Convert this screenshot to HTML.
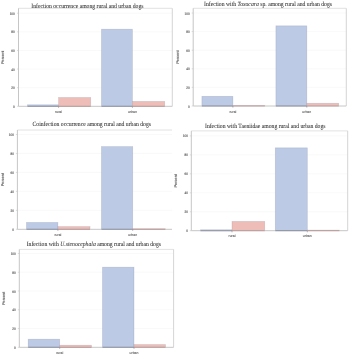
<!DOCTYPE html>
<html><head><meta charset="utf-8"><style>
html,body{margin:0;padding:0;background:#fff;width:350px;height:356px;overflow:hidden}
svg{display:block;will-change:transform}
text{text-rendering:geometricPrecision}
.tk{font-family:"Liberation Sans",sans-serif;font-size:3.65px;fill:#5a5a5a;stroke:#5a5a5a;stroke-width:0.15px}
.xk{font-family:"Liberation Sans",sans-serif;font-size:3.5px;fill:#6a6a6a;stroke:#6a6a6a;stroke-width:0.1px}
.pl{font-family:"Liberation Sans",sans-serif;font-size:3.9px;fill:#5a5a5a;stroke:#5a5a5a;stroke-width:0.1px}
.tt{font-family:"Liberation Serif",serif;font-size:6.45px;fill:#2a2a2a;stroke:#2a2a2a;stroke-width:0.04px}
</style></head><body>
<svg width="350" height="356" viewBox="0 0 350 356">
<rect width="350" height="356" fill="#fff"/>
<line x1="18.5" x2="172.3" y1="87.68" y2="87.68" stroke="#f5f5f5" stroke-width="0.6"/>
<line x1="18.5" x2="172.3" y1="69.06" y2="69.06" stroke="#f5f5f5" stroke-width="0.6"/>
<line x1="18.5" x2="172.3" y1="50.44" y2="50.44" stroke="#f5f5f5" stroke-width="0.6"/>
<line x1="18.5" x2="172.3" y1="31.82" y2="31.82" stroke="#f5f5f5" stroke-width="0.6"/>
<line x1="18.5" x2="172.3" y1="13.2" y2="13.2" stroke="#f5f5f5" stroke-width="0.6"/>
<line x1="18.5" x2="172.3" y1="8.3" y2="8.3" stroke="#e2e2e2" stroke-width="1"/>
<line x1="172.3" x2="172.3" y1="8.3" y2="106.3" stroke="#d0d0d0" stroke-width="0.9"/>
<rect x="27.5" y="104.81" width="31.1" height="1.49" fill="#bccae5" stroke="#6a6f8a" stroke-opacity="0.26" stroke-width="0.7"/>
<rect x="58.6" y="97.5" width="32.1" height="8.8" fill="#efbdb8" stroke="#7a6f80" stroke-opacity="0.26" stroke-width="0.7"/>
<rect x="101.5" y="29.21" width="30.9" height="77.09" fill="#bccae5" stroke="#6a6f8a" stroke-opacity="0.26" stroke-width="0.7"/>
<rect x="132.4" y="101.46" width="32.3" height="4.84" fill="#efbdb8" stroke="#7a6f80" stroke-opacity="0.26" stroke-width="0.7"/>
<line x1="18.5" x2="18.5" y1="8.3" y2="106.3" stroke="#c6c6c6" stroke-width="1"/>
<line x1="18.5" x2="172.3" y1="106.3" y2="106.3" stroke="#c6c6c6" stroke-width="1"/>
<line x1="27.5" x2="58.6" y1="106.3" y2="106.3" stroke="#505878" stroke-opacity="0.4" stroke-width="1.2"/>
<line x1="58.6" x2="90.7" y1="106.3" y2="106.3" stroke="#b07070" stroke-opacity="0.4" stroke-width="1.2"/>
<line x1="101.5" x2="132.4" y1="106.3" y2="106.3" stroke="#505878" stroke-opacity="0.4" stroke-width="1.2"/>
<line x1="132.4" x2="164.7" y1="106.3" y2="106.3" stroke="#b07070" stroke-opacity="0.4" stroke-width="1.2"/>
<line x1="17" x2="18.5" y1="106.3" y2="106.3" stroke="#c6c6c6" stroke-width="0.6"/>
<text transform="translate(14.8,107.8) scale(0.85,1)" text-anchor="end" class="tk">0</text>
<line x1="17" x2="18.5" y1="87.68" y2="87.68" stroke="#c6c6c6" stroke-width="0.6"/>
<text transform="translate(14.8,89.18) scale(0.85,1)" text-anchor="end" class="tk">20</text>
<line x1="17" x2="18.5" y1="69.06" y2="69.06" stroke="#c6c6c6" stroke-width="0.6"/>
<text transform="translate(14.8,70.56) scale(0.85,1)" text-anchor="end" class="tk">40</text>
<line x1="17" x2="18.5" y1="50.44" y2="50.44" stroke="#c6c6c6" stroke-width="0.6"/>
<text transform="translate(14.8,51.94) scale(0.85,1)" text-anchor="end" class="tk">60</text>
<line x1="17" x2="18.5" y1="31.82" y2="31.82" stroke="#c6c6c6" stroke-width="0.6"/>
<text transform="translate(14.8,33.32) scale(0.85,1)" text-anchor="end" class="tk">80</text>
<line x1="17" x2="18.5" y1="13.2" y2="13.2" stroke="#c6c6c6" stroke-width="0.6"/>
<text transform="translate(14.8,14.7) scale(0.85,1)" text-anchor="end" class="tk">100</text>
<line x1="58.6" x2="58.6" y1="106.3" y2="107.9" stroke="#888" stroke-width="0.6"/>
<text x="58.6" y="113.45" text-anchor="middle" class="xk">rural</text>
<line x1="132.4" x2="132.4" y1="106.3" y2="107.9" stroke="#888" stroke-width="0.6"/>
<text x="132.4" y="113.45" text-anchor="middle" class="xk">urban</text>
<text transform="translate(4.1,57.3) rotate(-90)" text-anchor="middle" class="pl">Percent</text>
<text x="31.3" y="7.7" textLength="112.2" lengthAdjust="spacingAndGlyphs" class="tt">Infection occurrence among rural and urban dogs</text>
<line x1="193.2" x2="346.3" y1="87.4" y2="87.4" stroke="#f5f5f5" stroke-width="0.6"/>
<line x1="193.2" x2="346.3" y1="68.8" y2="68.8" stroke="#f5f5f5" stroke-width="0.6"/>
<line x1="193.2" x2="346.3" y1="50.2" y2="50.2" stroke="#f5f5f5" stroke-width="0.6"/>
<line x1="193.2" x2="346.3" y1="31.6" y2="31.6" stroke="#f5f5f5" stroke-width="0.6"/>
<line x1="193.2" x2="346.3" y1="13" y2="13" stroke="#f5f5f5" stroke-width="0.6"/>
<line x1="193.2" x2="346.3" y1="8.3" y2="8.3" stroke="#e2e2e2" stroke-width="1"/>
<line x1="346.3" x2="346.3" y1="8.3" y2="106" stroke="#d0d0d0" stroke-width="0.9"/>
<rect x="201.9" y="96.33" width="31" height="9.67" fill="#bccae5" stroke="#6a6f8a" stroke-opacity="0.26" stroke-width="0.7"/>
<rect x="232.9" y="105.53" width="31.9" height="0.47" fill="#efbdb8" stroke="#7a6f80" stroke-opacity="0.26" stroke-width="0.7"/>
<rect x="275.9" y="25.83" width="30.9" height="80.17" fill="#bccae5" stroke="#6a6f8a" stroke-opacity="0.26" stroke-width="0.7"/>
<rect x="306.8" y="103.3" width="31.9" height="2.7" fill="#efbdb8" stroke="#7a6f80" stroke-opacity="0.26" stroke-width="0.7"/>
<line x1="193.2" x2="193.2" y1="8.3" y2="106" stroke="#c6c6c6" stroke-width="1"/>
<line x1="193.2" x2="346.3" y1="106" y2="106" stroke="#c6c6c6" stroke-width="1"/>
<line x1="201.9" x2="232.9" y1="106" y2="106" stroke="#505878" stroke-opacity="0.4" stroke-width="1.2"/>
<line x1="232.9" x2="264.8" y1="106" y2="106" stroke="#b07070" stroke-opacity="0.4" stroke-width="1.2"/>
<line x1="275.9" x2="306.8" y1="106" y2="106" stroke="#505878" stroke-opacity="0.4" stroke-width="1.2"/>
<line x1="306.8" x2="338.7" y1="106" y2="106" stroke="#b07070" stroke-opacity="0.4" stroke-width="1.2"/>
<line x1="191.7" x2="193.2" y1="106" y2="106" stroke="#c6c6c6" stroke-width="0.6"/>
<text transform="translate(189.7,107.5) scale(0.85,1)" text-anchor="end" class="tk">0</text>
<line x1="191.7" x2="193.2" y1="87.4" y2="87.4" stroke="#c6c6c6" stroke-width="0.6"/>
<text transform="translate(189.7,88.9) scale(0.85,1)" text-anchor="end" class="tk">20</text>
<line x1="191.7" x2="193.2" y1="68.8" y2="68.8" stroke="#c6c6c6" stroke-width="0.6"/>
<text transform="translate(189.7,70.3) scale(0.85,1)" text-anchor="end" class="tk">40</text>
<line x1="191.7" x2="193.2" y1="50.2" y2="50.2" stroke="#c6c6c6" stroke-width="0.6"/>
<text transform="translate(189.7,51.7) scale(0.85,1)" text-anchor="end" class="tk">60</text>
<line x1="191.7" x2="193.2" y1="31.6" y2="31.6" stroke="#c6c6c6" stroke-width="0.6"/>
<text transform="translate(189.7,33.1) scale(0.85,1)" text-anchor="end" class="tk">80</text>
<line x1="191.7" x2="193.2" y1="13" y2="13" stroke="#c6c6c6" stroke-width="0.6"/>
<text transform="translate(189.7,14.5) scale(0.85,1)" text-anchor="end" class="tk">100</text>
<line x1="232.9" x2="232.9" y1="106" y2="107.6" stroke="#888" stroke-width="0.6"/>
<text x="232.9" y="112.8" text-anchor="middle" class="xk">rural</text>
<line x1="306.8" x2="306.8" y1="106" y2="107.6" stroke="#888" stroke-width="0.6"/>
<text x="306.8" y="112.8" text-anchor="middle" class="xk">urban</text>
<text transform="translate(178.7,57.15) rotate(-90)" text-anchor="middle" class="pl">Percent</text>
<text x="204" y="5.9" textLength="128" lengthAdjust="spacingAndGlyphs" class="tt">Infection with <tspan font-style="italic">Toxocara</tspan> sp. among rural and urban dogs</text>
<line x1="17.4" x2="172" y1="210.34" y2="210.34" stroke="#f5f5f5" stroke-width="0.6"/>
<line x1="17.4" x2="172" y1="191.38" y2="191.38" stroke="#f5f5f5" stroke-width="0.6"/>
<line x1="17.4" x2="172" y1="172.42" y2="172.42" stroke="#f5f5f5" stroke-width="0.6"/>
<line x1="17.4" x2="172" y1="153.46" y2="153.46" stroke="#f5f5f5" stroke-width="0.6"/>
<line x1="17.4" x2="172" y1="134.5" y2="134.5" stroke="#f5f5f5" stroke-width="0.6"/>
<line x1="17.4" x2="172" y1="130" y2="130" stroke="#e2e2e2" stroke-width="1"/>
<rect x="26.5" y="222.47" width="31.4" height="6.83" fill="#bccae5" stroke="#6a6f8a" stroke-opacity="0.26" stroke-width="0.7"/>
<rect x="57.9" y="226.6" width="32.1" height="2.7" fill="#efbdb8" stroke="#7a6f80" stroke-opacity="0.26" stroke-width="0.7"/>
<rect x="101.5" y="146.63" width="31.2" height="82.67" fill="#bccae5" stroke="#6a6f8a" stroke-opacity="0.26" stroke-width="0.7"/>
<rect x="132.7" y="228.73" width="32.6" height="0.57" fill="#efbdb8" stroke="#7a6f80" stroke-opacity="0.26" stroke-width="0.7"/>
<line x1="17.4" x2="17.4" y1="130" y2="229.3" stroke="#c6c6c6" stroke-width="1"/>
<line x1="17.4" x2="172" y1="229.3" y2="229.3" stroke="#c6c6c6" stroke-width="1"/>
<line x1="26.5" x2="57.9" y1="229.3" y2="229.3" stroke="#505878" stroke-opacity="0.4" stroke-width="1.2"/>
<line x1="57.9" x2="90" y1="229.3" y2="229.3" stroke="#b07070" stroke-opacity="0.4" stroke-width="1.2"/>
<line x1="101.5" x2="132.7" y1="229.3" y2="229.3" stroke="#505878" stroke-opacity="0.4" stroke-width="1.2"/>
<line x1="132.7" x2="165.3" y1="229.3" y2="229.3" stroke="#b07070" stroke-opacity="0.4" stroke-width="1.2"/>
<line x1="15.9" x2="17.4" y1="229.3" y2="229.3" stroke="#c6c6c6" stroke-width="0.6"/>
<text transform="translate(14,230.8) scale(0.85,1)" text-anchor="end" class="tk">0</text>
<line x1="15.9" x2="17.4" y1="210.34" y2="210.34" stroke="#c6c6c6" stroke-width="0.6"/>
<text transform="translate(14,211.84) scale(0.85,1)" text-anchor="end" class="tk">20</text>
<line x1="15.9" x2="17.4" y1="191.38" y2="191.38" stroke="#c6c6c6" stroke-width="0.6"/>
<text transform="translate(14,192.88) scale(0.85,1)" text-anchor="end" class="tk">40</text>
<line x1="15.9" x2="17.4" y1="172.42" y2="172.42" stroke="#c6c6c6" stroke-width="0.6"/>
<text transform="translate(14,173.92) scale(0.85,1)" text-anchor="end" class="tk">60</text>
<line x1="15.9" x2="17.4" y1="153.46" y2="153.46" stroke="#c6c6c6" stroke-width="0.6"/>
<text transform="translate(14,154.96) scale(0.85,1)" text-anchor="end" class="tk">80</text>
<line x1="15.9" x2="17.4" y1="134.5" y2="134.5" stroke="#c6c6c6" stroke-width="0.6"/>
<text transform="translate(14,136) scale(0.85,1)" text-anchor="end" class="tk">100</text>
<line x1="57.9" x2="57.9" y1="229.3" y2="230.9" stroke="#888" stroke-width="0.6"/>
<text x="57.9" y="236.3" text-anchor="middle" class="xk">rural</text>
<line x1="132.7" x2="132.7" y1="229.3" y2="230.9" stroke="#888" stroke-width="0.6"/>
<text x="132.7" y="236.3" text-anchor="middle" class="xk">urban</text>
<text transform="translate(4,179.65) rotate(-90)" text-anchor="middle" class="pl">Percent</text>
<text x="32.5" y="125.8" textLength="118.5" lengthAdjust="spacingAndGlyphs" class="tt">Coinfection occurrence among rural and urban dogs</text>
<line x1="191.3" x2="347.7" y1="211.74" y2="211.74" stroke="#f5f5f5" stroke-width="0.6"/>
<line x1="191.3" x2="347.7" y1="192.78" y2="192.78" stroke="#f5f5f5" stroke-width="0.6"/>
<line x1="191.3" x2="347.7" y1="173.82" y2="173.82" stroke="#f5f5f5" stroke-width="0.6"/>
<line x1="191.3" x2="347.7" y1="154.86" y2="154.86" stroke="#f5f5f5" stroke-width="0.6"/>
<line x1="191.3" x2="347.7" y1="135.9" y2="135.9" stroke="#f5f5f5" stroke-width="0.6"/>
<line x1="191.3" x2="347.7" y1="130.9" y2="130.9" stroke="#e2e2e2" stroke-width="1"/>
<line x1="347.7" x2="347.7" y1="130.9" y2="230.7" stroke="#d0d0d0" stroke-width="0.9"/>
<rect x="200.5" y="229.75" width="31.5" height="0.95" fill="#bccae5" stroke="#6a6f8a" stroke-opacity="0.26" stroke-width="0.7"/>
<rect x="232" y="221.45" width="32.7" height="9.25" fill="#efbdb8" stroke="#7a6f80" stroke-opacity="0.26" stroke-width="0.7"/>
<rect x="275.3" y="147.84" width="32" height="82.86" fill="#bccae5" stroke="#6a6f8a" stroke-opacity="0.26" stroke-width="0.7"/>
<rect x="307.3" y="230.13" width="32" height="0.57" fill="#efbdb8" stroke="#7a6f80" stroke-opacity="0.26" stroke-width="0.7"/>
<line x1="191.3" x2="191.3" y1="130.9" y2="230.7" stroke="#c6c6c6" stroke-width="1"/>
<line x1="191.3" x2="347.7" y1="230.7" y2="230.7" stroke="#c6c6c6" stroke-width="1"/>
<line x1="200.5" x2="232" y1="230.7" y2="230.7" stroke="#505878" stroke-opacity="0.4" stroke-width="1.2"/>
<line x1="232" x2="264.7" y1="230.7" y2="230.7" stroke="#b07070" stroke-opacity="0.4" stroke-width="1.2"/>
<line x1="275.3" x2="307.3" y1="230.7" y2="230.7" stroke="#505878" stroke-opacity="0.4" stroke-width="1.2"/>
<line x1="307.3" x2="339.3" y1="230.7" y2="230.7" stroke="#b07070" stroke-opacity="0.4" stroke-width="1.2"/>
<line x1="189.8" x2="191.3" y1="230.7" y2="230.7" stroke="#c6c6c6" stroke-width="0.6"/>
<text transform="translate(188,232.2) scale(0.85,1)" text-anchor="end" class="tk">0</text>
<line x1="189.8" x2="191.3" y1="211.74" y2="211.74" stroke="#c6c6c6" stroke-width="0.6"/>
<text transform="translate(188,213.24) scale(0.85,1)" text-anchor="end" class="tk">20</text>
<line x1="189.8" x2="191.3" y1="192.78" y2="192.78" stroke="#c6c6c6" stroke-width="0.6"/>
<text transform="translate(188,194.28) scale(0.85,1)" text-anchor="end" class="tk">40</text>
<line x1="189.8" x2="191.3" y1="173.82" y2="173.82" stroke="#c6c6c6" stroke-width="0.6"/>
<text transform="translate(188,175.32) scale(0.85,1)" text-anchor="end" class="tk">60</text>
<line x1="189.8" x2="191.3" y1="154.86" y2="154.86" stroke="#c6c6c6" stroke-width="0.6"/>
<text transform="translate(188,156.36) scale(0.85,1)" text-anchor="end" class="tk">80</text>
<line x1="189.8" x2="191.3" y1="135.9" y2="135.9" stroke="#c6c6c6" stroke-width="0.6"/>
<text transform="translate(188,137.4) scale(0.85,1)" text-anchor="end" class="tk">100</text>
<line x1="232" x2="232" y1="230.7" y2="232.3" stroke="#888" stroke-width="0.6"/>
<text x="232" y="236.9" text-anchor="middle" class="xk">rural</text>
<line x1="307.3" x2="307.3" y1="230.7" y2="232.3" stroke="#888" stroke-width="0.6"/>
<text x="307.3" y="236.9" text-anchor="middle" class="xk">urban</text>
<text transform="translate(176.8,180.8) rotate(-90)" text-anchor="middle" class="pl">Percent</text>
<text x="205" y="128.3" textLength="120.5" lengthAdjust="spacingAndGlyphs" class="tt">Infection with Taeniidae among rural and urban dogs</text>
<line x1="19.3" x2="173.6" y1="328.54" y2="328.54" stroke="#f5f5f5" stroke-width="0.6"/>
<line x1="19.3" x2="173.6" y1="309.78" y2="309.78" stroke="#f5f5f5" stroke-width="0.6"/>
<line x1="19.3" x2="173.6" y1="291.02" y2="291.02" stroke="#f5f5f5" stroke-width="0.6"/>
<line x1="19.3" x2="173.6" y1="272.26" y2="272.26" stroke="#f5f5f5" stroke-width="0.6"/>
<line x1="19.3" x2="173.6" y1="253.5" y2="253.5" stroke="#f5f5f5" stroke-width="0.6"/>
<line x1="19.3" x2="173.6" y1="249.4" y2="249.4" stroke="#e2e2e2" stroke-width="1"/>
<line x1="173.6" x2="173.6" y1="249.4" y2="347.3" stroke="#d0d0d0" stroke-width="0.9"/>
<rect x="28.2" y="339.23" width="31.5" height="8.07" fill="#bccae5" stroke="#6a6f8a" stroke-opacity="0.26" stroke-width="0.7"/>
<rect x="59.7" y="345.24" width="31.8" height="2.06" fill="#efbdb8" stroke="#7a6f80" stroke-opacity="0.26" stroke-width="0.7"/>
<rect x="102.5" y="267.19" width="31.5" height="80.11" fill="#bccae5" stroke="#6a6f8a" stroke-opacity="0.26" stroke-width="0.7"/>
<rect x="134" y="344.58" width="31.5" height="2.72" fill="#efbdb8" stroke="#7a6f80" stroke-opacity="0.26" stroke-width="0.7"/>
<line x1="19.3" x2="19.3" y1="249.4" y2="347.3" stroke="#c6c6c6" stroke-width="1"/>
<line x1="19.3" x2="173.6" y1="347.3" y2="347.3" stroke="#c6c6c6" stroke-width="1"/>
<line x1="28.2" x2="59.7" y1="347.3" y2="347.3" stroke="#505878" stroke-opacity="0.4" stroke-width="1.2"/>
<line x1="59.7" x2="91.5" y1="347.3" y2="347.3" stroke="#b07070" stroke-opacity="0.4" stroke-width="1.2"/>
<line x1="102.5" x2="134" y1="347.3" y2="347.3" stroke="#505878" stroke-opacity="0.4" stroke-width="1.2"/>
<line x1="134" x2="165.5" y1="347.3" y2="347.3" stroke="#b07070" stroke-opacity="0.4" stroke-width="1.2"/>
<line x1="17.8" x2="19.3" y1="347.3" y2="347.3" stroke="#c6c6c6" stroke-width="0.6"/>
<text transform="translate(15.8,348.8) scale(0.85,1)" text-anchor="end" class="tk">0</text>
<line x1="17.8" x2="19.3" y1="328.54" y2="328.54" stroke="#c6c6c6" stroke-width="0.6"/>
<text transform="translate(15.8,330.04) scale(0.85,1)" text-anchor="end" class="tk">20</text>
<line x1="17.8" x2="19.3" y1="309.78" y2="309.78" stroke="#c6c6c6" stroke-width="0.6"/>
<text transform="translate(15.8,311.28) scale(0.85,1)" text-anchor="end" class="tk">40</text>
<line x1="17.8" x2="19.3" y1="291.02" y2="291.02" stroke="#c6c6c6" stroke-width="0.6"/>
<text transform="translate(15.8,292.52) scale(0.85,1)" text-anchor="end" class="tk">60</text>
<line x1="17.8" x2="19.3" y1="272.26" y2="272.26" stroke="#c6c6c6" stroke-width="0.6"/>
<text transform="translate(15.8,273.76) scale(0.85,1)" text-anchor="end" class="tk">80</text>
<line x1="17.8" x2="19.3" y1="253.5" y2="253.5" stroke="#c6c6c6" stroke-width="0.6"/>
<text transform="translate(15.8,255) scale(0.85,1)" text-anchor="end" class="tk">100</text>
<line x1="59.7" x2="59.7" y1="347.3" y2="348.9" stroke="#888" stroke-width="0.6"/>
<text x="59.7" y="354.3" text-anchor="middle" class="xk">rural</text>
<line x1="134" x2="134" y1="347.3" y2="348.9" stroke="#888" stroke-width="0.6"/>
<text x="134" y="354.3" text-anchor="middle" class="xk">urban</text>
<text transform="translate(4.7,298.35) rotate(-90)" text-anchor="middle" class="pl">Percent</text>
<text x="26.7" y="245.5" textLength="134.3" lengthAdjust="spacingAndGlyphs" class="tt">Infection with <tspan font-style="italic">U.stenocephala</tspan> among rural and urban dogs</text>
</svg>
</body></html>
